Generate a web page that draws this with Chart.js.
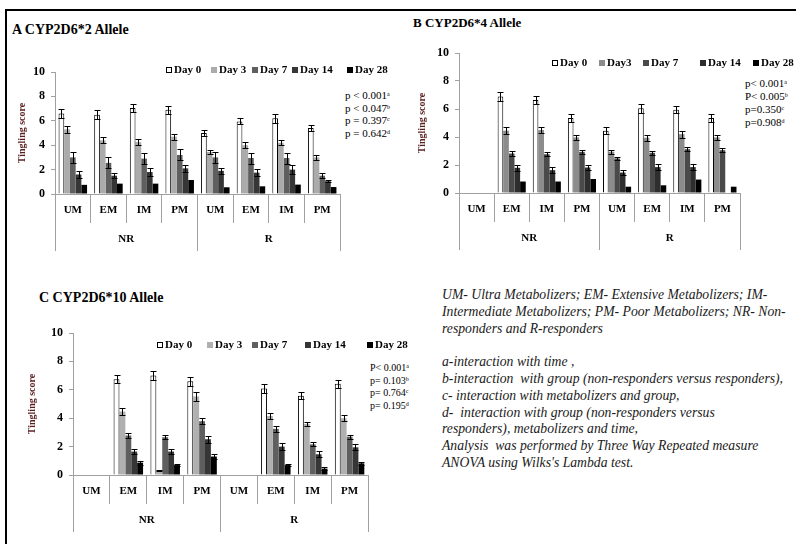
<!DOCTYPE html>
<html>
<head>
<meta charset="utf-8">
<script src="https://cdn.jsdelivr.net/npm/chart.js@4.4.0/dist/chart.umd.min.js"></script>
<style>
  body { margin: 0; background: #fff; }
  #page { position: relative; width: 796px; height: 544px; overflow: hidden; font-family: "Liberation Serif", "Times New Roman", serif; color: #000; }
  .frame { position: absolute; background: #000; }
  .title { position: absolute; font-weight: bold; white-space: nowrap; line-height: 1; }
  .pvals { position: absolute; white-space: nowrap; }
  .pvals sup { font-size: 6px; vertical-align: 3px; }
  .notes { position: absolute; left: 442px; top: 287px; font-size: 13.7px; line-height: 16.8px; font-style: italic; color: #1a1a1a; white-space: pre; }
  canvas { position: absolute; }
</style>
</head>
<body>
<div id="page">
  <div class="frame" style="left:5px;top:9px;width:791px;height:2px"></div>
  <div class="frame" style="left:5px;top:9px;width:2px;height:535px"></div>

  <div class="title" style="left:12px;top:23px;font-size:14px">A CYP2D6*2 Allele</div>
  <div class="title" style="left:413px;top:16px;font-size:13px">B CYP2D6*4 Allele</div>
  <div class="title" style="left:39px;top:291px;font-size:14px">C CYP2D6*10 Allele</div>

  <div class="pvals" style="left:345px;top:89px;font-size:11px;line-height:11.6px">p &lt; 0.001<sup>a</sup><br>p &lt; 0.047<sup>b</sup><br>p = 0.397<sup>c</sup><br>p = 0.642<sup>d</sup></div>
  <div class="pvals" style="left:745px;top:76px;font-size:11px;line-height:12px">p&lt; 0.001<sup>a</sup><br>P&lt; 0.005<sup>b</sup><br>p=0.350<sup>c</sup><br>p=0.908<sup>d</sup></div>
  <div class="pvals" style="left:370px;top:361px;font-size:10px;line-height:10.5px">P&lt; 0.001<sup>a</sup><br>p= 0.103<sup>b</sup><br>p= 0.764<sup>c</sup><br>p= 0.195<sup>d</sup></div>

  <div class="notes">UM- Ultra Metabolizers; EM- Extensive Metabolizers; IM-
Intermediate Metabolizers; PM- Poor Metabolizers; NR- Non-
responders and R-responders

a-interaction with time ,
b-interaction  with group (non-responders versus responders),
c- interaction with metabolizers and group,
d-  interaction with group (non-responders versus
responders), metabolizers and time,
Analysis  was performed by Three Way Repeated measure
ANOVA using Wilks's Lambda test.</div>

  <canvas id="chartA" width="390" height="225" style="left:10px;top:40px"></canvas>
  <canvas id="chartB" width="386" height="235" style="left:410px;top:30px"></canvas>
  <canvas id="chartC" width="400" height="225" style="left:20px;top:315px"></canvas>
</div>

<script>
// categories
const metabolizers = ["UM", "EM", "IM", "PM", "UM", "EM", "IM", "PM"];
const groups = ["NR", "R"];
const scoreTicks = [0, 2, 4, 6, 8, 10];

// panel A: CYP2D6*2
const aDay0 = [6.6, 6.5, 7.05, 6.9, 5.0, 5.95, 6.2, 5.4];
const aDay3 = [5.3, 4.4, 4.25, 4.7, 3.45, 4.0, 4.2, 3.0];
const aDay7 = [3.0, 2.55, 2.9, 3.2, 3.0, 2.95, 2.95, 1.5];
const aDay14 = [1.6, 1.5, 1.8, 2.1, 1.9, 1.75, 2.0, 1.05];
const aDay28 = [0.75, 0.85, 0.85, 1.15, 0.55, 0.63, 0.77, 0.57];
const aErr0 = [0.35, 0.35, 0.35, 0.35, 0.25, 0.25, 0.35, 0.25];
const aErr3 = [0.3, 0.25, 0.25, 0.25, 0.15, 0.25, 0.2, 0.2];
const aErr7 = [0.45, 0.45, 0.45, 0.45, 0.45, 0.45, 0.45, 0.2];
const aErr14 = [0.3, 0.2, 0.3, 0.3, 0.25, 0.3, 0.35, 0.1];
const aErr28 = [0, 0, 0, 0, 0, 0, 0, 0];

// panel B: CYP2D6*4
const bDay0 = [null, 6.9, 6.65, 5.35, 4.45, 6.05, 5.95, 5.35];
const bDay3 = [null, 4.45, 4.5, 3.97, 2.95, 3.95, 4.2, 3.97];
const bDay7 = [null, 2.82, 2.77, 2.94, 2.47, 2.87, 3.13, 3.06];
const bDay14 = [null, 1.8, 1.63, 1.82, 1.46, 1.85, 1.85, null];
const bDay28 = [null, 0.82, 0.82, 1.0, 0.45, 0.55, 0.96, 0.45];
const bErr0 = [0, 0.3, 0.3, 0.3, 0.25, 0.3, 0.25, 0.3];
const bErr3 = [0, 0.25, 0.2, 0.2, 0.15, 0.2, 0.25, 0.2];
const bErr7 = [0, 0.2, 0.15, 0.15, 0.1, 0.15, 0.15, 0.15];
const bErr14 = [0, 0.2, 0.2, 0.2, 0.15, 0.2, 0.2, 0];
const bErr28 = [0, 0, 0, 0, 0, 0, 0, 0];

// panel C: CYP2D6*10
const cDay0 = [null, 6.75, 7.0, 6.6, null, 6.1, 5.58, 6.42];
const cDay3 = [null, 4.47, 0.3, 5.53, null, 4.16, 3.6, 4.0];
const cDay7 = [null, 2.78, 2.66, 3.79, null, 3.25, 2.16, 2.7];
const cDay14 = [null, 1.65, 1.65, 2.52, null, 2.0, 1.46, 1.95];
const cDay28 = [null, 0.87, 0.7, 1.3, null, 0.7, 0.45, 0.82];
const cErr0 = [0, 0.3, 0.3, 0.3, 0, 0.3, 0.25, 0.3];
const cErr3 = [0, 0.25, 0.05, 0.3, 0, 0.2, 0.15, 0.2];
const cErr7 = [0, 0.15, 0.15, 0.2, 0, 0.2, 0.15, 0.15];
const cErr14 = [0, 0.2, 0.2, 0.25, 0, 0.25, 0.2, 0.2];
const cErr28 = [0, 0.15, 0.1, 0.15, 0, 0.1, 0.1, 0.1];

const serif = '"Liberation Serif", "Times New Roman", serif';
const axisGray = "#a0a0a0";

// draws the SD whiskers on top of each bar
const errorBars = {
  id: "errorBars",
  afterDatasetsDraw(chart) {
    const ctx = chart.ctx;
    const y = chart.scales.y;
    ctx.save();
    ctx.strokeStyle = "#000";
    ctx.lineWidth = 1;
    chart.data.datasets.forEach((ds, i) => {
      chart.getDatasetMeta(i).data.forEach((bar, j) => {
        const v = ds.data[j];
        const e = ds.errors[j];
        if (v == null || !e) return;
        const top = Math.round(y.getPixelForValue(v + e)) + 0.5;
        const bot = Math.round(y.getPixelForValue(v - e)) + 0.5;
        const x = Math.round(bar.x) + 0.5;
        ctx.beginPath();
        ctx.moveTo(x, top); ctx.lineTo(x, bot);
        ctx.moveTo(x - 3, top); ctx.lineTo(x + 3, top);
        ctx.moveTo(x - 3, bot); ctx.lineTo(x + 3, bot);
        ctx.stroke();
      });
    });
    ctx.restore();
  }
};

// legend row sitting inside the top of the plot
const dayLegend = {
  id: "dayLegend",
  afterDraw(chart, args, opts) {
    const ctx = chart.ctx;
    ctx.save();
    ctx.font = "bold 11px " + serif;
    ctx.textBaseline = "middle";
    chart.data.datasets.forEach((ds, i) => {
      const x = opts.xs[i];
      const s = 6;
      ctx.fillStyle = ds.backgroundColor;
      ctx.fillRect(x, opts.y - s / 2, s, s);
      if (ds.borderWidth) {
        ctx.strokeStyle = "#000";
        ctx.lineWidth = 1;
        ctx.strokeRect(x + 0.5, opts.y - s / 2 + 0.5, s - 1, s - 1);
      }
      ctx.fillStyle = "#000";
      ctx.fillText(ds.label, x + s + 2, opts.y + 0.5);
    });
    ctx.restore();
  }
};

function makeChart(id, series, errs, labels, colors, layout) {
  const datasets = series.map((data, i) => ({
    label: labels[i],
    data: data,
    errors: errs[i],
    xAxisID: "x",
    backgroundColor: colors[i],
    borderColor: "#000",
    borderWidth: i === 0 ? 1 : 0,
    categoryPercentage: 0.8,
    barPercentage: 1.0
  }));

  return new Chart(document.getElementById(id), {
    type: "bar",
    data: { labels: metabolizers, datasets },
    plugins: [errorBars, dayLegend],
    options: {
      responsive: false,
      animation: false,
      layout: { padding: layout.padding },
      plugins: {
        legend: { display: false },
        tooltip: { enabled: false },
        dayLegend: { xs: layout.legendXs, y: layout.legendY }
      },
      scales: {
        x: {
          type: "category",
          offset: true,
          grid: { offset: true, drawOnChartArea: false, tickLength: 29, color: axisGray, tickColor: axisGray },
          border: { color: axisGray },
          ticks: { font: { family: serif, size: 11, weight: "bold" }, color: "#000", padding: -19, autoSkip: false, maxRotation: 0 },
          afterFit: (s) => { s.height = 22; }
        },
        x2: {
          type: "category",
          labels: groups,
          position: "bottom",
          offset: true,
          grid: { offset: true, drawOnChartArea: false, tickLength: 35, color: axisGray, tickColor: axisGray },
          border: { display: false },
          ticks: { font: { family: serif, size: 11, weight: "bold" }, color: "#000", padding: -18, autoSkip: false, maxRotation: 0 },
          afterFit: (s) => { s.height = 40; }
        },
        y: {
          min: 0,
          max: 10,
          afterBuildTicks: (s) => { s.ticks = scoreTicks.map((v) => ({ value: v })); },
          grid: { drawOnChartArea: false, tickLength: 4, color: axisGray, tickColor: axisGray },
          border: { color: axisGray },
          ticks: { font: { family: serif, size: 12, weight: "bold" }, color: "#000", padding: 6 },
          title: {
            display: true,
            text: "Tingling score",
            color: "#5b1f1f",
            font: { family: serif, size: 10, weight: "bold" },
            padding: { top: 6, bottom: 0 }
          },
          afterFit: (s) => { s.width = layout.yWidth; }
        }
      }
    }
  });
}

const daysA = ["Day 0", "Day 3", "Day 7", "Day 14", "Day 28"];
const daysB = ["Day 0", "Day3", "Day 7", "Day 14", "Day 28"];

makeChart("chartA",
  [aDay0, aDay3, aDay7, aDay14, aDay28],
  [aErr0, aErr3, aErr7, aErr14, aErr28],
  daysA,
  ["#ffffff", "#ababab", "#5f5f5f", "#363636", "#000000"],
  { padding: { left: 0, top: 32, right: 60, bottom: 9 }, yWidth: 45, legendXs: [156, 201, 242, 282, 337], legendY: 30 });

makeChart("chartB",
  [bDay0, bDay3, bDay7, bDay14, bDay28],
  [bErr0, bErr3, bErr7, bErr14, bErr28],
  daysB,
  ["#ffffff", "#8c8c8c", "#4a4a4a", "#2e2e2e", "#000000"],
  { padding: { left: 0, top: 23, right: 56, bottom: 10 }, yWidth: 49, legendXs: [142, 189, 233, 290, 343], legendY: 33 });

makeChart("chartC",
  [cDay0, cDay3, cDay7, cDay14, cDay28],
  [cErr0, cErr3, cErr7, cErr14, cErr28],
  daysA,
  ["#ffffff", "#b0b0b0", "#5f5f5f", "#363636", "#000000"],
  { padding: { left: 0, top: 18, right: 52, bottom: 3 }, yWidth: 53, legendXs: [137, 187, 232, 285, 347], legendY: 30 });
</script>
</body>
</html>
